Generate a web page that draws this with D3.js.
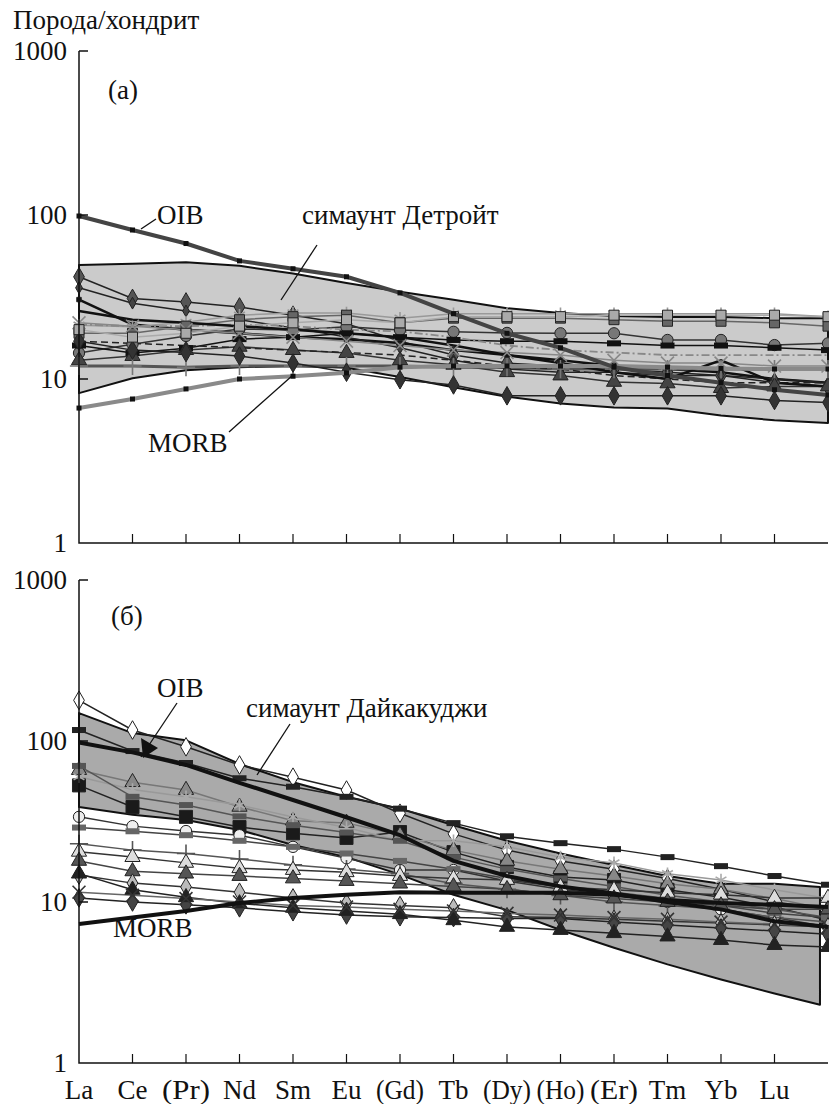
<!DOCTYPE html>
<html>
<head>
<meta charset="utf-8">
<script src="https://cdn.jsdelivr.net/npm/d3@7"></script>
<style>
  body { margin: 0; background: #fff; }
  svg text { font-family: "Liberation Serif", "Times New Roman", Tinos, "DejaVu Serif", serif; fill: #111; }
</style>
</head>
<body>
<svg id="chart" width="829" height="1104"></svg>
<script>
// REE labels (the 15th data column at the right end has no label)
const elements = ["La", "Ce", "(Pr)", "Nd", "Sm", "Eu", "(Gd)", "Tb", "(Dy)", "(Ho)", "(Er)", "Tm", "Yb", "Lu"];
const yTicks = [1, 10, 100, 1000];

// ---- panel (a): Detroit seamount
const oibA = [98.6, 81, 67, 52.5, 47, 42, 33.5, 25, 19, 15.5, 11.8, 10.5, 9.5, 8.6, 8];
const morbA = [6.65, 7.55, 8.7, 10, 10.4, 10.9, 11.8, 12, 12, 12, 12, 11.8, 11.6, 11.5, 11.5];
const detroitTop = [49.6, 50.5, 51.5, 49, 44, 38.5, 34, 30.4, 27, 25.3, 24.2, 23.9, 23.9, 23.5, 23.5];
const detroitBot = [8.2, 10.1, 11.3, 11.8, 12, 11.7, 10.3, 8.9, 7.8, 7.1, 6.7, 6.6, 6.0, 5.6, 5.4];
const detroitSamples = [
  [42, 31, 29.5, 27.5, 24.5, 21.7, 17, 14, 12.5, 12, 11.5, 11, 10.5, 9.5, 9],
  [30.5, 21.5, 20, 19, 18, 17.5, 16.6, 15, 14, 13, 12, 11.5, 11, 10, 9.5],
  [36, 29, 26, 23, 20.5, 18, 15.5, 13, 11.5, 11, 11, 10.5, 10.5, 10, 9.5],
  [14.4, 16.3, 18.3, 20.2, 19.9, 20.8, 19.9, 19.4, 19.1, 19, 19, 17.3, 17.3, 16.1, 16.5],
  [21.3, 20.8, 22.2, 24.5, 25.3, 25.3, 23.5, 25, 25, 25, 25, 25, 25, 25, 24],
  [19, 19, 21, 23, 24, 24.5, 22, 23.5, 23.5, 23.5, 23, 22.5, 22.5, 22, 21],
  [16, 14.4, 15.4, 17.5, 18, 19, 18, 17.3, 17, 17, 16.5, 16, 16, 15.5, 15],
  [13, 13.8, 15, 15.7, 15, 14.4, 13, 12.2, 11, 10.5, 9.6, 9.4, 8.8, 9, 9],
  [12, 12, 11.8, 12, 12, 12, 12, 11.8, 11.8, 11.5, 11.5, 11.5, 11.5, 11.5, 11.5],
  [21.5, 21, 21, 21.5, 21, 20, 19.5, 18, 16, 15, 14.5, 14, 14, 14, 14],
  [17, 16.5, 16, 15.5, 15, 14.5, 14, 13, 12, 11.5, 10.5, 10, 9.5, 9.5, 9.5],
  [17, 15, 14.5, 13.8, 12.5, 11, 9.9, 9.2, 7.9, 7.9, 7.9, 7.9, 7.9, 7.4, 7.2],
  [22, 21, 20, 19, 18, 17, 16, 15, 14.5, 14, 13, 12.5, 12.5, 12, 12],
  [20, 18, 19, 21, 22, 23, 22, 24, 24, 24, 24.5, 24.5, 24.5, 24.5, 24],
  [26, 23, 22, 21, 20, 19, 18, 16, 14, 12.5, 11, 10, 13, 9.5, 9]
];

// ---- panel (б): Daikakuji seamount
const oibB = [98, 85, 71, 55, 43, 33.6, 26, 18, 14.5, 12.5, 11.3, 10, 9, 7.6, 7];
const morbB = [7.3, 8.0, 8.8, 9.85, 10.6, 11.1, 11.5, 11.4, 11.4, 11.4, 11.1, 10.3, 9.85, 9.6, 9.3];
const daikakujiTop = [149, 112, 101, 72, 55.5, 45, 38, 30, 24, 20, 17, 14.5, 13, 13, 12.4];
const daikakujiBot = [38.9, 34.8, 32.3, 28, 22.6, 19, 14.8, 11.1, 8.9, 6.7, 5.2, 4.1, 3.3, 2.7, 2.3];
const daikakujiSamples = [
  [179, 117, 92, 71, 59.6, 49.6, 35.6, 26.5, 21, 18, 16, 14, 12, 10, 9],
  [117, 86.6, 73, 58.7, 52, 45, 38, 30.9, 25.6, 23.2, 21.3, 19, 16.7, 14.5, 12.8],
  [53, 38.9, 33.8, 29.2, 26.7, 25, 27.2, 20.4, 16.5, 14.3, 13.7, 11.9, 10.7, 9.3, 7.7],
  [66, 55.5, 49.6, 39, 32, 31, 26, 21, 18, 16, 14.5, 13, 12, 10.5, 9],
  [60, 50, 45, 40, 33.7, 29, 24, 24, 22, 19, 17.5, 15, 13.7, 11.9, 10.5],
  [70, 45, 40, 34, 30, 27, 24, 19, 16, 14, 12.5, 11, 10, 9, 8],
  [33.8, 29.6, 27.6, 26, 22, 18.7, 15.8, 15.8, 13.5, 12, 11, 10, 9, 8, 7],
  [29, 27.5, 26, 24, 22, 20, 18, 16, 14, 12.5, 11.5, 10.5, 9.5, 8.5, 8],
  [23, 21, 20, 18.5, 17, 16, 15, 13, 12, 11, 10, 9.5, 9, 8, 7.5],
  [20.5, 19, 17.5, 16.2, 15.8, 15.3, 14.5, 14, 13.7, 12.4, 11.9, 11.4, 11.1, 10.6, 10.6],
  [18, 15.5, 15, 14.5, 14, 13.5, 13, 12.5, 12, 11, 10.5, 10, 9.5, 9, 9],
  [14.7, 13.1, 12.4, 11.5, 10.6, 9.85, 9.5, 9.2, 8.1, 8, 7.8, 7.6, 7.4, 7.2, 7],
  [10.6, 10, 9.6, 9.2, 8.7, 8.3, 8.1, 8, 7.9, 7.9, 7.5, 7.2, 6.9, 6.6, 6.3],
  [15, 11.9, 10.7, 9.8, 9.2, 8.8, 8.4, 7.7, 7, 6.7, 6.4, 6.1, 5.8, 5.4, 5.25],
  [11.5, 11, 10.5, 10, 9.5, 9.3, 9, 8.8, 8.5, 8.3, 8, 7.8, 7.5, 7.3, 7]
];

// styles for the sample lines (same order as the value arrays)
const styleA = [
  { line: "#222", w: 1.5, sym: "diamond", fill: "#555" },
  { line: "#111", w: 2.5, sym: "square", fill: "#111", size: 20 },
  { line: "#222", w: 1.5, sym: "diamond", fill: "#444", size: 40 },
  { line: "#333", w: 1.5, sym: "circle", fill: "#777" },
  { line: "#999", w: 1.5, sym: "asterisk", fill: "#999" },
  { line: "#666", w: 1.5, sym: "square", fill: "#666" },
  { line: "#111", w: 1.5, sym: "bar", fill: "#111" },
  { line: "#333", w: 1.5, sym: "triangle", fill: "#444" },
  { line: "#555", w: 3, sym: "plus", fill: "#777" },
  { line: "#888", w: 1.8, sym: "none", dash: "8,3,2,3" },
  { line: "#222", w: 1.5, sym: "none", dash: "7,4" },
  { line: "#222", w: 1.5, sym: "diamond", fill: "#333" },
  { line: "#888", w: 1.5, sym: "times", fill: "#888" },
  { line: "#aaa", w: 1.5, sym: "square", fill: "#aaa" },
  { line: "#111", w: 2.5, sym: "none" }
];
const styleB = [
  { line: "#222", w: 1.5, sym: "diamond", fill: "#fff" },
  { line: "#222", w: 1.5, sym: "bar", fill: "#222" },
  { line: "#222", w: 1.5, sym: "square", fill: "#1a1a1a", size: 170 },
  { line: "#777", w: 1.5, sym: "triangle", fill: "#888" },
  { line: "#999", w: 1.5, sym: "asterisk", fill: "#aaa" },
  { line: "#555", w: 1.5, sym: "bar", fill: "#555" },
  { line: "#333", w: 1.5, sym: "circle", fill: "#eee" },
  { line: "#444", w: 1.5, sym: "bar", fill: "#666" },
  { line: "#555", w: 1.5, sym: "plus", fill: "#555" },
  { line: "#333", w: 1.5, sym: "triangle", fill: "#ddd" },
  { line: "#444", w: 1.5, sym: "triangle", fill: "#555" },
  { line: "#333", w: 1.5, sym: "diamond", fill: "#bbb" },
  { line: "#222", w: 1.5, sym: "diamond", fill: "#444" },
  { line: "#222", w: 1.5, sym: "triangle", fill: "#222" },
  { line: "#666", w: 1.5, sym: "times", fill: "#333" }
];

const FONT = "'Liberation Serif', 'Times New Roman', Tinos, 'DejaVu Serif', serif";
const svg = d3.select("#chart").attr("font-family", FONT);
const x = d3.scaleLinear().domain([0, 14]).range([79, 828]);
const idx = d3.range(15);

function drawPanel(cfg) {
  const y = d3.scaleLog().domain([1, 1000]).range([cfg.bottom, cfg.top]);
  const g = svg.append("g");
  const line = d3.line().x((d, i) => x(i)).y(d => y(d));

  // field of the seamount
  const envX = cfg.envX || idx;
  const poly = envX.map((xi, i) => [x(xi), y(cfg.envTop[i])])
    .concat(envX.map((xi, i) => [x(xi), y(cfg.envBot[i])]).reverse());
  g.append("path")
    .attr("d", "M" + poly.join("L") + "Z")
    .attr("fill", cfg.envFill)
    .attr("stroke", "#111")
    .attr("stroke-width", 2)
    .attr("stroke-linejoin", "round");

  // sample lines
  cfg.samples.forEach((vals, k) => {
    const st = cfg.styles[k];
    g.append("path")
      .attr("d", line(vals))
      .attr("fill", "none")
      .attr("stroke", st.line)
      .attr("stroke-width", st.w)
      .attr("stroke-dasharray", st.dash || null);
  });
  const types = {
    diamond: d3.symbolDiamond, circle: d3.symbolCircle, square: d3.symbolSquare,
    triangle: d3.symbolTriangle, plus: d3.symbolPlus, asterisk: d3.symbolAsterisk, times: d3.symbolTimes
  };
  cfg.samples.forEach((vals, k) => {
    const st = cfg.styles[k];
    if (st.sym === "none") return;
    const mg = g.append("g");
    vals.forEach((v, i) => {
      const px = x(i), py = y(v);
      if (st.sym === "bar") {
        mg.append("rect").attr("x", px - 7).attr("y", py - 3).attr("width", 14).attr("height", 6)
          .attr("fill", st.fill);
        return;
      }
      const stroked = ["plus", "asterisk", "times"].includes(st.sym);
      mg.append("path")
        .attr("transform", `translate(${px},${py})`)
        .attr("d", d3.symbol().type(types[st.sym]).size(st.size || (stroked ? 110 : 100))())
        .attr("fill", stroked ? "none" : st.fill)
        .attr("stroke", stroked ? st.fill : "#222")
        .attr("stroke-width", stroked ? 1.6 : 1);
    });
  });

  // reference lines OIB / MORB
  cfg.refs.forEach(r => {
    g.append("path")
      .attr("d", line(r.vals))
      .attr("fill", "none")
      .attr("stroke", r.color)
      .attr("stroke-width", 4)
      .attr("stroke-linejoin", "round");
    if (r.marks) {
      g.selectAll(null).data(r.vals).join("rect")
        .attr("x", (d, i) => x(i) - 2.5).attr("y", d => y(d) - 2.5)
        .attr("width", 5).attr("height", 5).attr("fill", "#111");
    }
  });

  // axes
  g.append("path")
    .attr("d", `M${x(0)},${y(1000)}V${y(1)}H${x(14)}`)
    .attr("fill", "none").attr("stroke", "#111").attr("stroke-width", 1.5);
  yTicks.slice(1).forEach(t => {
    g.append("line").attr("x1", x(0)).attr("x2", x(0) + 9).attr("y1", y(t)).attr("y2", y(t))
      .attr("stroke", "#111").attr("stroke-width", 1.5);
  });
  d3.range(1, 14).forEach(i => {
    g.append("line").attr("x1", x(i)).attr("x2", x(i)).attr("y1", y(1)).attr("y2", y(1) - 9)
      .attr("stroke", "#111").attr("stroke-width", 1.2);
  });
  yTicks.forEach(t => {
    g.append("text").attr("x", 67).attr("y", y(t) + 9).attr("text-anchor", "end")
      .attr("font-size", 27).text(t);
  });
  if (cfg.xLabels) {
    elements.forEach((e, i) => {
      g.append("text").attr("x", x(i)).attr("y", y(1) + 36).attr("text-anchor", "middle")
        .attr("font-size", 27).attr("textLength", e.length > 2 ? 48 : null)
        .attr("lengthAdjust", "spacingAndGlyphs").text(e);
    });
  }
  return g;
}

drawPanel({
  top: 51, bottom: 543, envTop: detroitTop, envBot: detroitBot, envFill: "#cbcbcb",
  samples: detroitSamples, styles: styleA,
  refs: [{ vals: morbA, color: "#8a8a8a", marks: true }, { vals: oibA, color: "#444", marks: true }],
  xLabels: false
});
drawPanel({
  top: 580, bottom: 1063, envTop: daikakujiTop, envBot: daikakujiBot, envFill: "#aaaaaa",
  envX: d3.range(14).concat([13.85]),
  samples: daikakujiSamples, styles: styleB,
  refs: [{ vals: morbB, color: "#111" }, { vals: oibB, color: "#111" }],
  xLabels: true
});

// annotations
function label(txt, px, py, size) {
  svg.append("text").attr("x", px).attr("y", py).attr("font-size", size || 27).text(txt);
}
function leader(x1, y1, x2, y2) {
  svg.append("line").attr("x1", x1).attr("y1", y1).attr("x2", x2).attr("y2", y2)
    .attr("stroke", "#111").attr("stroke-width", 1.3);
}
label("Порода/хондрит", 13, 29);
label("(а)", 108, 99);
label("OIB", 157, 224);
leader(141, 229, 156, 219);
label("симаунт Детройт", 302, 224);
leader(317, 245, 281, 300);
label("MORB", 148, 452);
leader(229, 432, 293, 375);

label("(б)", 111, 625);
label("OIB", 157, 697);
leader(177, 703, 141, 757);
svg.append("path").attr("d", "M141,738L158,748L143,758Z").attr("fill", "#111");
label("симаунт Дайкакуджи", 246, 717);
leader(290, 724, 257, 775);
label("MORB", 113, 937);
</script>
</body>
</html>
